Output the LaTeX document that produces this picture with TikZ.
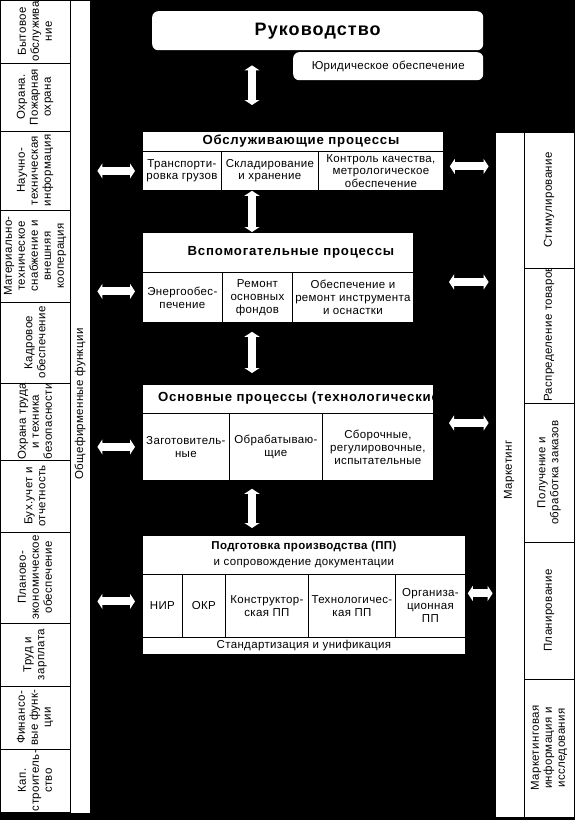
\documentclass[tikz,border=0pt]{standalone}
\usepackage{fontspec}
\setmainfont{Liberation Sans}[LetterSpace=3]
\newfontfamily\titleff{Liberation Sans}[LetterSpace=6]
\usetikzlibrary{arrows.meta}
\newcommand\cellfnt{\fontsize{11.5}{13}\selectfont}
\newcommand\titlefnt{\titleff\bfseries\fontsize{13.2}{15}\selectfont}
\newcommand\rukfnt{\titleff\bfseries\fontsize{18}{20}\selectfont}
\tikzset{
  cell/.style={draw=black, fill=white, line width=0.8pt, inner sep=0pt, align=center, font=\cellfnt, anchor=north west},
  vcell/.style={draw=black, fill=white, line width=0.8pt, inner sep=0pt, align=center, font=\cellfnt, rotate=90},
  rbox/.style={fill=white, rounded corners=6pt, inner sep=0pt, anchor=north west},
  stripbox/.style={draw=black, fill=white, line width=0.8pt, inner sep=0pt},
  blk/.style={draw=white, line width=8pt, {Triangle[length=5pt,width=15pt]}-{Triangle[length=5pt,width=15pt]}}
}
% horizontal cell: [opts]{name}{x1}{y1}{x2}{y2}{text}
\newcommand\hc[7][]{\pgfmathsetmacro\cw{#5-#3}\pgfmathsetmacro\chh{#6-#4}%
  \node[cell,#1, minimum width=\cw pt, minimum height=\chh pt] (#2) at (#3,#4) {#7};}
% left vertical cell: {name}{y1}{y2}{text}
\newcommand\lc[4]{\pgfmathsetmacro\chh{#3-#2}\pgfmathsetmacro\cy{(#2+#3)/2}%
  \node[vcell, minimum width=\chh pt, minimum height=70pt] (#1) at (35,\cy) {#4};}
% right vertical cell: {name}{y1}{y2}{text}
\newcommand\rc[4]{\pgfmathsetmacro\chh{#3-#2}\pgfmathsetmacro\cy{(#2+#3)/2}%
  \node[vcell, minimum width=\chh pt, minimum height=50pt] (#1) at (549,\cy) {#4};}
\begin{document}
\begin{tikzpicture}[x=1pt,y=-1pt]
\useasboundingbox (0,0) rectangle (575,820);
\fill[black] (0,0) rectangle (575,820);

% left column
\node[stripbox, minimum width=90pt, minimum height=813pt] (lstrip) at (45,406.5) {};
\node[rotate=90, font=\cellfnt] (lstriplab) at (80,404) {Общефирменные функции};
\lc{l1}{0}{63}{Бытовое\\обслужива\\ние}
\lc{l2}{63}{131}{Охрана.\\Пожарная\\охрана}
\lc{l3}{131}{210}{Научно-\\техническая\\информация}
\lc{l4}{210}{302}{Материально-\\техническое\\снабжение и\\внешняя\\кооперация}
\lc{l5}{302}{383}{Кадровое\\обеспечение}
\lc{l6}{383}{460}{Охрана труда\\и техника\\безопасности}
\lc{l7}{460}{532}{Бух.учет и\\отчетность}
\lc{l8}{532}{623}{Планово-\\экономическое\\обеспечение}
\lc{l9}{623}{686}{Труд и\\зарплата}
\lc{l10}{686}{749}{Финансо-\\вые функ-\\ции}
\lc{l11}{749}{812}{Кап.\\строитель-\\ство}

% right column
\node[stripbox, minimum width=80pt, minimum height=685pt] (rstrip) at (535,474.5) {};
\node[rotate=90, font=\cellfnt] (rstriplab) at (509,470) {Маркетинг};
\rc{r1}{132}{268}{Стимулирование}
\rc{r2}{268}{403}{}
\begin{scope}
\clip (524,268) rectangle (574,403);
\node[rotate=90, anchor=west, inner sep=1pt, font=\cellfnt] (r2lab) at (549,403) {Распределение товаров};
\end{scope}
\rc{r3}{403}{542}{Получение и\\обработка заказов}
\rc{r4}{542}{679}{Планирование}
\rc{r5}{679}{817}{Маркетинговая\\информация и\\исследования}

% top
\node[rbox, minimum width=331pt, minimum height=39pt, font=\rukfnt] (ruk) at (152,11) {Руководство};
\node[rbox, minimum width=190pt, minimum height=28pt, font=\cellfnt] (yur) at (293,52) {Юридическое обеспечение};

% service processes
\hc[font=\titlefnt]{obst}{142}{131}{443}{151}{\hspace*{16pt}Обслуживающие процессы}
\hc[font=\fontsize{11.5}{12.5}\selectfont]{obs1}{142}{151}{221}{190}{Транспорти-\\ровка грузов}
\hc[font=\fontsize{11.5}{12.5}\selectfont]{obs2}{221}{151}{318}{190}{Складирование\\и хранение}
\hc[font=\fontsize{11.5}{12.5}\selectfont]{obs3}{318}{151}{443}{190}{Контроль качества,\\метрологическое\\обеспечение}

% auxiliary processes
\hc[font=\titlefnt]{vspt}{142}{232}{413}{272}{\hspace*{26pt}Вспомогательные процессы}
\hc{vsp1}{142}{272}{222}{322}{Энергообес-\\печение}
\hc{vsp2}{222}{272}{292}{322}{Ремонт\\основных\\фондов}
\hc{vsp3}{292}{272}{413}{322}{Обеспечение и\\ремонт инструмента\\и оснастки}

% main processes
\hc{osnt}{142}{384}{433}{413}{}
\begin{scope}
\clip (142,384) rectangle (433,413);
\node[anchor=west, inner sep=0pt, font=\titlefnt] (osnlab) at (158,398.5) {Основные процессы (технологические)};
\end{scope}
\hc{osn1}{142}{413}{229}{480}{Заготовитель-\\ные}
\hc{osn2}{229}{413}{322}{480}{Обрабатываю-\\щие}
\hc{osn3}{322}{413}{433}{480}{Сборочные,\\регулировочные,\\испытательные}

% production preparation
\hc[font=\fontsize{11.5}{16}\selectfont]{podt}{142}{535}{465}{574}{{\bfseries Подготовка производства (ПП)}\\и сопровождение документации}
\hc{pod1}{142}{574}{182}{637}{НИР}
\hc{pod2}{182}{574}{225}{637}{ОКР}
\hc{pod3}{225}{574}{308}{637}{Конструктор-\\ская ПП}
\hc{pod4}{308}{574}{395}{637}{Технологичес-\\кая ПП}
\hc{pod5}{395}{574}{465}{637}{Организа-\\ционная\\ПП}
\hc{pods}{142}{637}{465}{654}{Стандартизация и унификация}

% vertical arrows
\coordinate (vx) at (252,0);
\draw[blk, shorten <=15pt, shorten >=26pt] (vx |- ruk.south) -- (vx |- obst.north);
\draw[blk] (vx |- obs2.south) -- (vx |- vspt.north);
\draw[blk, shorten <=9pt, shorten >=11pt] (vx |- vsp2.south) -- (vx |- osnt.north);
\draw[blk, shorten <=8pt, shorten >=7pt] (vx |- osn2.south) -- (vx |- podt.north);

% left arrows
\coordinate (vspL) at ([yshift=6pt]vsp1.west);
\coordinate (podL) at ([yshift=4.5pt]pod1.west);
\draw[blk, shorten <=7pt, shorten >=7pt] (lstrip.east |- obs1.west) -- (obs1.west);
\draw[blk, shorten <=7pt, shorten >=7pt] (lstrip.east |- vspL) -- (vspL);
\draw[blk, shorten <=7pt, shorten >=7pt] (lstrip.east |- osn1.west) -- (osn1.west);
\draw[blk, shorten <=7pt, shorten >=7pt] (lstrip.east |- podL) -- (podL);

% right arrows
\coordinate (obsR) at ([yshift=4.5pt]obs3.east);
\coordinate (vspR) at (449,282);
\coordinate (osnR) at (449,423);
\coordinate (podR) at ([yshift=12.5pt]pod5.east);
\draw[blk, shorten <=6pt, shorten >=6pt] (obsR) -- (rstrip.west |- obsR);
\draw[blk, shorten >=6pt] (vspR) -- (rstrip.west |- vspR);
\draw[blk, shorten >=6pt] (osnR) -- (rstrip.west |- osnR);
\draw[blk, shorten <=2pt, shorten >=2pt] (podR) -- (rstrip.west |- podR);
\end{tikzpicture}
\end{document}
